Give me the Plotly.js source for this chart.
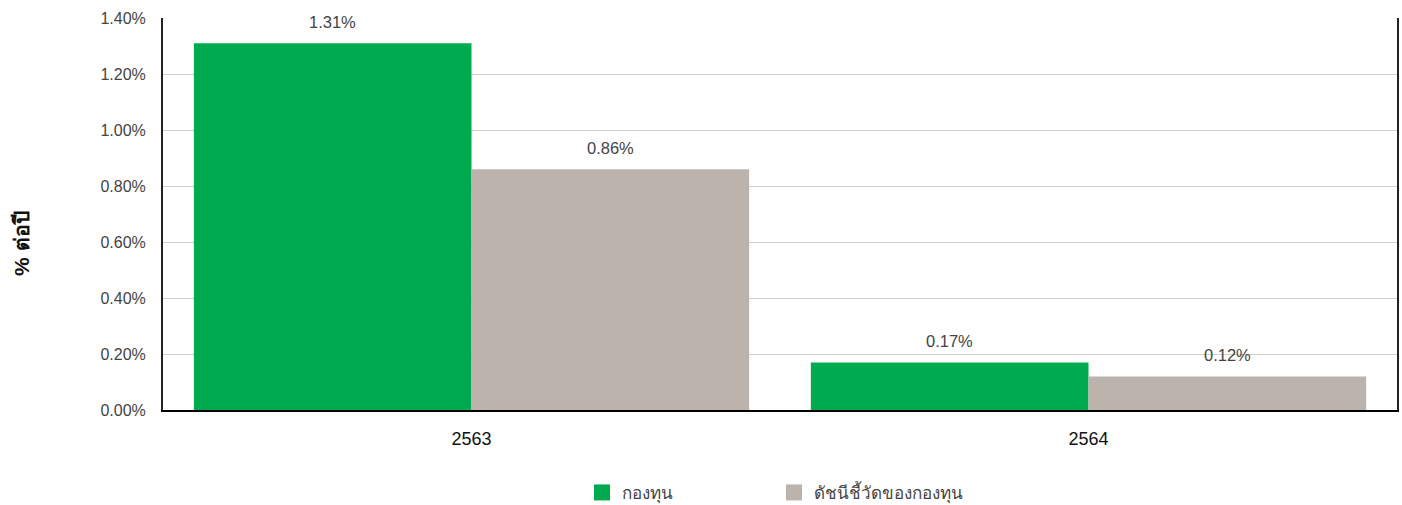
<!DOCTYPE html>
<html>
<head>
<meta charset="utf-8">
<script src="https://cdn.plot.ly/plotly-3.0.1.min.js"></script>
<style>html,body{margin:0;padding:0;background:#fff}#chart{width:1402px;height:505px}</style>
</head>
<body>
<div id="chart"></div>
<script>
const categories = ['2563', '2564'];
const fundValues = [1.31, 0.17];
const benchmarkValues = [0.86, 0.12];
const seriesNames = ['กองทุน', 'ดัชนีชี้วัดของกองทุน'];
const seriesColors = ['#00AB4F', '#BDB3AD'];
const yTitle = '% ต่อปี';

const FONT = 'Arial, "Liberation Sans", sans-serif';
const W = 1402, H = 505;
const margin = {l: 163, r: 5, t: 18, b: 95};
const bargap = 0.1;

const series = [fundValues, benchmarkValues];
const traces = series.map((vals, i) => ({
  type: 'bar', x: categories, y: vals, name: seriesNames[i],
  marker: {color: seriesColors[i]}, showlegend: false, hoverinfo: 'x+y'
}));
// legend proxies with larger square swatches
series.forEach((vals, i) => traces.push({
  type: 'scatter', mode: 'markers', x: [categories[0]], y: [null], name: seriesNames[i],
  marker: {symbol: 'square', size: 16, color: seriesColors[i]}, showlegend: true, hoverinfo: 'skip'
}));

// value labels above bars (x given as category index)
const plotW = W - margin.l - margin.r;
const plotH = H - margin.t - margin.b;
const catW = plotW / categories.length;
const barW = catW * (1 - bargap) / series.length;
const annotations = [];
series.forEach((vals, i) => {
  const shift = (i - (series.length - 1) / 2) * barW;
  vals.forEach((v, j) => annotations.push({
    x: j, y: v, xref: 'x', yref: 'y', text: v.toFixed(2) + '%',
    showarrow: false, xshift: shift, yanchor: 'bottom', yshift: 10,
    font: {family: FONT, size: 16.5, color: '#444'}
  }));
});
// y-axis title (placed lower than plot centre, as in the reference)
annotations.push({
  xref: 'paper', yref: 'paper', x: (22 - margin.l) / plotW, y: (H - margin.b - 244) / plotH,
  text: '<b>' + yTitle + '</b>', textangle: -90, showarrow: false,
  xanchor: 'center', yanchor: 'middle',
  font: {family: FONT, size: 21, color: '#111'}
});

const layout = {
  width: W, height: H, margin: margin,
  paper_bgcolor: '#fff', plot_bgcolor: '#fff',
  barmode: 'group', bargap: bargap, bargroupgap: 0,
  font: {family: FONT, color: '#444'},
  xaxis: {
    type: 'category', categoryarray: categories, range: [-0.5, categories.length - 0.5],
    automargin: false, showgrid: false, showline: true, linecolor: '#000', linewidth: 2,
    ticks: '', ticklabelstandoff: 11,
    tickfont: {family: FONT, size: 18, color: '#111'}
  },
  yaxis: {
    automargin: false,
    range: [0, 1.4], dtick: 0.2, tickformat: '.2f', ticksuffix: '%',
    showgrid: true, gridcolor: '#cfcfcf', gridwidth: 1,
    showline: true, mirror: true, linecolor: '#222', linewidth: 2,
    zeroline: false, ticks: '', ticklabelstandoff: 12,
    tickfont: {family: FONT, size: 16, color: '#444'}
  },
  legend: {
    orientation: 'h', x: 0.5 - 6 / plotW, xanchor: 'center', yref: 'container', y: 0.024, yanchor: 'middle',
    font: {family: FONT, size: 17, color: '#444'}, entrywidth: 147, itemclick: false
  },
  annotations: annotations
};

Plotly.newPlot('chart', traces, layout, {displayModeBar: false, staticPlot: true});
</script>
</body>
</html>
